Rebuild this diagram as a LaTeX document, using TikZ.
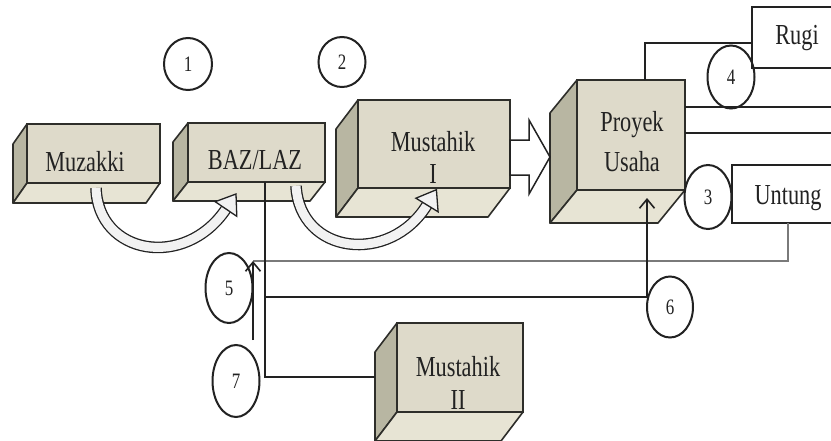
\documentclass[tikz,border=0pt]{standalone}
\usepackage{fontspec}
\setmainfont[FakeStretch=0.77]{Liberation Serif}
\usetikzlibrary{shapes.geometric,arrows.meta}
\definecolor{frontc}{HTML}{DEDACA}
\definecolor{sidec}{HTML}{B8B6A2}
\definecolor{botc}{HTML}{E7E4D4}
\definecolor{edgec}{HTML}{2E2E2A}
\definecolor{inkc}{HTML}{222222}
\definecolor{thinc}{HTML}{7A7A7A}
\definecolor{shaftc}{HTML}{F2F2F2}
\tikzset{
 front/.style={draw=edgec, fill=frontc, line width=1.6pt, inner sep=0pt, outer sep=0pt, rectangle},
 sideface/.style={draw=edgec, fill=sidec, line width=1.6pt, line join=round},
 botface/.style={draw=edgec, fill=botc, line width=1.6pt, line join=round},
 lbl/.style={text=inkc, font=\fontsize{29}{32}\selectfont, inner sep=0pt},
 num/.style={ellipse, draw=inkc, line width=2pt, inner sep=0pt, font=\fontsize{22}{24}\selectfont, text=inkc},
 plainbox/.style={draw=inkc, fill=white, line width=1.4pt, inner sep=0pt, outer sep=0pt, rectangle},
 conn/.style={draw=inkc, line width=1.6pt},
 thinline/.style={draw=thinc, line width=1.2pt},
 barb/.style={-{Straight Barb[length=9pt,width=15pt]}},
 bigarrow/.style={draw=inkc, fill=white, line width=1.5pt, line join=miter},
 curvshaft/.style={draw=inkc, line width=1.3pt, double=shaftc, double distance=9pt},
 curvhead/.style={draw=inkc, fill=shaftc, line width=1.3pt, line join=miter},
}
\newcommand\cubefaces[3]{%
 \filldraw[sideface] (#1.north west) -- ++(#2,#3) -- ([shift={(#2,#3)}]#1.south west) -- (#1.south west) -- cycle;
 \filldraw[botface] (#1.south west) -- (#1.south east) -- ++(#2,#3) -- ([shift={(#2,#3)}]#1.south west) -- cycle;}
\begin{document}
\begin{tikzpicture}[x=1pt,y=-1pt]
\useasboundingbox (0,0) rectangle (831,440);
\clip (0,0) rectangle (831,440);
\fill[white] (0,0) rectangle (831,440);

% coordinates for connectors
\coordinate (eA) at (840,107);
\coordinate (eB) at (840,133);
\coordinate (j5) at (253,261);
\coordinate (a5) at (253,340);
\coordinate (k1) at (265,297);
\coordinate (m2s) at (375,377);
\coordinate (ptip) at (647,198);

% boxes
\node[front, minimum width=133pt, minimum height=59pt] (muz) at (93.5,153.5) {};
\cubefaces{muz}{-14}{20}
\node[front, minimum width=137pt, minimum height=59pt] (baz) at (256.5,152.5) {};
\cubefaces{baz}{-15}{19}
\node[front, minimum width=152pt, minimum height=88pt] (m1) at (434,144) {};
\cubefaces{m1}{-22}{29}
\node[front, minimum width=108pt, minimum height=110pt] (proy) at (631,135) {};
\cubefaces{proy}{-27}{33}
\node[front, minimum width=126pt, minimum height=89pt] (m2) at (460,367.5) {};
\cubefaces{m2}{-22}{29}

\node[plainbox, minimum width=98pt, minimum height=61pt] (rugi) at (801,37.5) {};
\node[plainbox, minimum width=118pt, minimum height=58pt] (unt) at (791,194) {};

% thin loop line
\draw[thinline] ([xshift=-3pt]unt.south) |- (j5);

% connectors
\draw[conn] ([xshift=14pt]proy.north) |- ([yshift=-5.5pt]rugi.west);
\draw[conn] (proy.east |- eA) -- (eA);
\draw[conn] (proy.east |- eB) -- (eB);
\draw[conn] ([xshift=8.5pt]baz.south) |- (m2s);
\draw[conn, barb] (k1) -| (ptip);
\draw[conn, barb] (a5) -- (j5);

% big hollow arrow Mustahik -> Proyek
\draw[bigarrow] (m1.east |- 0,140) -- (529,140) -- (529,120) -- (550,157) -- (529,194) -- (529,175) -- (m1.east |- 0,175) -- cycle;

% curved arrows
\draw[curvshaft] (96,188) .. controls (98,255) and (185,270) .. (226,209);
\filldraw[curvhead] (215.2,201.7) -- (236,194) -- (236.8,216.3) -- cycle;
\draw[curvshaft] (296,186) .. controls (300,255) and (390,265) .. (427,205);
\filldraw[curvhead] (415.9,198.2) -- (436.4,189.7) -- (438.1,211.8) -- cycle;

% labels
\node[lbl] (muzT) at (85,162) {Muzakki};
\node[lbl] (bazT) at (255,160) {BAZ/LAZ};
\node[lbl] (m1T) at (433,142) {Mustahik};
\node[lbl] (m1T2) at (433,174) {I};
\node[lbl] (proyT) at (632,125) {Proyek};
\node[lbl] (proyT2) at (632,162) {Usaha};
\node[lbl] (m2T) at (458,367) {Mustahik};
\node[lbl] (m2T2) at (458,400) {II};
\node[lbl] (rugiT) at (797,38) {Rugi};
\node[lbl] (untT) at (788,198) {Untung};

% numbered circles
\node[num, minimum width=48pt, minimum height=52pt] (c1) at (188,64) {1};
\node[num, minimum width=47pt, minimum height=50pt] (c2) at (342,62) {2};
\node[num, minimum width=47pt, minimum height=64pt] (c3) at (708,197) {3};
\node[num, minimum width=47pt, minimum height=63pt] (c4) at (731,77) {4};
\node[num, minimum width=47pt, minimum height=70pt] (c5) at (229,288) {5};
\node[num, minimum width=46pt, minimum height=61pt] (c6) at (670,307) {6};
\node[num, minimum width=47pt, minimum height=72pt] (c7) at (236,381) {7};
\end{tikzpicture}
\end{document}
